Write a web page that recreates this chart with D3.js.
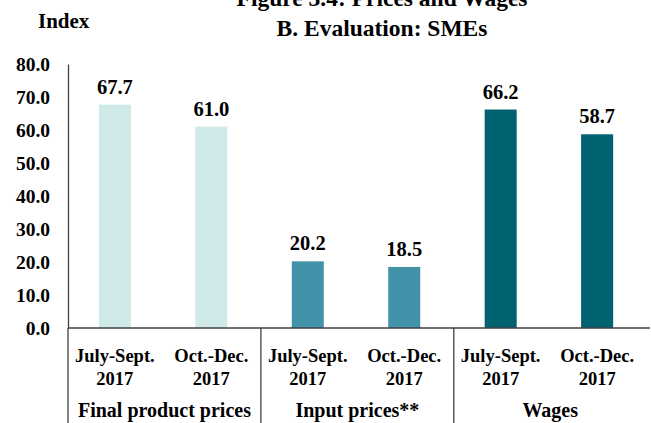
<!DOCTYPE html>
<html><head><meta charset="utf-8">
<script src="https://cdn.jsdelivr.net/npm/d3@7"></script>
<style>body{margin:0;background:#fff}svg{display:block}text{font-family:"Liberation Serif","Times New Roman",serif;font-weight:bold;fill:#000}</style>
</head><body><svg id="c" width="651" height="423"></svg>
<script>
const groups = ["Final product prices", "Input prices**", "Wages"];
const periods = [["July-Sept.", "2017"], ["Oct.-Dec.", "2017"]];
const values = [[67.7, 61.0], [20.2, 18.5], [66.2, 58.7]];
const colors = ["#cfe9e9", "#4292a9", "#006170"];
const yTicks = [0, 10, 20, 30, 40, 50, 60, 70, 80];

const svg = d3.select("#c");
const mLeft = 68, mRight = 644, mTop = 64, mBottom = 328;
const slots = [];
groups.forEach((g, gi) => periods.forEach((p, pi) => slots.push({g, gi, pi, p, v: values[gi][pi]})));
const x = d3.scaleBand().domain(d3.range(slots.length)).range([mLeft, mRight]).paddingInner(0.668).paddingOuter(0.32);
const y = d3.scaleLinear().domain([0, 80]).range([mBottom, mTop]);

// title
svg.append("text").attr("x", 382).attr("y", 6).attr("text-anchor", "middle").style("font-size", "23.5px").text("Figure 3.4: Prices and Wages");
svg.append("text").attr("x", 382).attr("y", 36).attr("text-anchor", "middle").style("font-size", "23.5px").text("B. Evaluation: SMEs");
svg.append("text").attr("x", 38).attr("y", 28).style("font-size", "21px").text("Index");

// y axis
const ya = svg.append("g").attr("transform", `translate(${mLeft},0)`).call(d3.axisLeft(y).tickValues(yTicks).tickFormat(d3.format(".1f")).tickSize(0).tickPadding(18));
ya.select(".domain").attr("stroke", "#404040").attr("stroke-width", 1.3);
ya.selectAll("text").style("font-size", "19.5px").style("font-family", '"Liberation Serif",serif').style("font-weight", "bold").attr("fill", "#000");

// bars
svg.selectAll("rect.bar").data(slots).join("rect").attr("class", "bar")
  .attr("x", (d, i) => x(i)).attr("width", x.bandwidth())
  .attr("y", d => y(d.v)).attr("height", d => mBottom - y(d.v))
  .attr("fill", d => colors[d.gi]);

svg.selectAll("text.val").data(slots).join("text").attr("class", "val")
  .attr("x", (d, i) => x(i) + x.bandwidth() / 2).attr("y", d => y(d.v) - 11)
  .attr("text-anchor", "middle").style("font-size", "20.5px").text(d => d.v.toFixed(1));

// x axis line
svg.append("line").attr("x1", mLeft).attr("x2", 650).attr("y1", mBottom).attr("y2", mBottom).attr("stroke", "#404040").attr("stroke-width", 1.3);
// group separators
const step = x.step();
const x0 = x(0) - x.paddingOuter() * step;
d3.range(groups.length).forEach(k => {
  const xx = x0 + k * 2 * step;
  svg.append("line").attr("x1", xx).attr("x2", xx).attr("y1", mBottom).attr("y2", 423).attr("stroke", "#404040").attr("stroke-width", 1.3);
});

// category labels
svg.selectAll("text.cat1").data(slots).join("text").attr("class", "cat1")
  .attr("x", (d, i) => x(i) + x.bandwidth() / 2).attr("y", 362).attr("text-anchor", "middle").style("font-size", "18.5px").text(d => d.p[0]);
svg.selectAll("text.cat2").data(slots).join("text").attr("class", "cat2")
  .attr("x", (d, i) => x(i) + x.bandwidth() / 2).attr("y", 385).attr("text-anchor", "middle").style("font-size", "18.5px").text(d => d.p[1]);
svg.selectAll("text.grp").data(groups).join("text").attr("class", "grp")
  .attr("x", (d, k) => x0 + (k * 2 + 1) * step).attr("y", 417).attr("text-anchor", "middle").style("font-size", "20px").text(d => d);
</script></body></html>
